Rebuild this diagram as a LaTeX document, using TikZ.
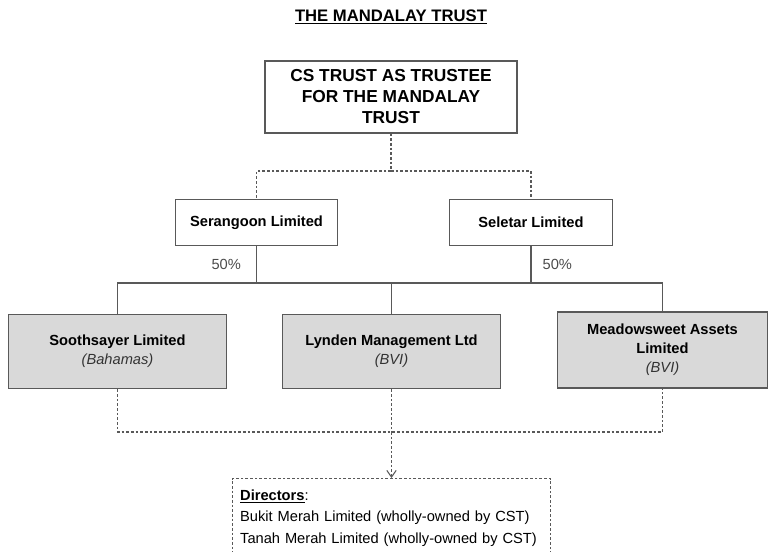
\documentclass[tikz,border=0pt]{standalone}
\usepackage{fontspec}
\setmainfont{Liberation Sans}
\usetikzlibrary{positioning}
\usetikzlibrary{arrows.meta}
\definecolor{boxgrey}{HTML}{D9D9D9}
\definecolor{edgegrey}{HTML}{595959}

\begin{document}
\begin{tikzpicture}[x=0.75pt,y=-0.75pt,
  entity/.style={draw=edgegrey,line width=0.9pt,fill=white,align=center,inner sep=2pt,
    font=\fontsize{11}{14}\selectfont\bfseries},
  company/.style={entity,fill=boxgrey,minimum height=56pt,font=\fontsize{11}{14.3}\selectfont\bfseries},
  owns/.style={draw=edgegrey,line width=0.8pt},
  control/.style={draw=edgegrey,line width=0.8pt,dash pattern=on 2pt off 1.5pt},
  pct/.style={font=\fontsize{11}{13}\selectfont,text=black!70}
]
\useasboundingbox (0,0) rectangle (768,551);

\node[font=\fontsize{12.5}{15}\selectfont\bfseries] (title) at (391,17) {\underline{THE MANDALAY TRUST}};

\node[entity,minimum width=189pt,minimum height=54pt,font=\fontsize{13}{15.75}\selectfont\bfseries] (trustee) at (391,97)
  {CS TRUST AS TRUSTEE\\FOR THE MANDALAY\\TRUST};

% shareholders
\node[entity,minimum width=122pt,minimum height=35pt] (serangoon) at (256.5,222.5) {Serangoon Limited};
\node[entity,minimum width=122pt,minimum height=35pt] (seletar) at (531,222.5) {Seletar Limited};

% companies
\node[company,minimum width=164pt] (soothsayer) at (117.5,351.5)
  {Soothsayer Limited\\{\mdseries\itshape\color{black!80}(Bahamas)}};
\node[company,minimum width=163pt] (lynden) at (391.5,351.5)
  {Lynden Management Ltd\\{\mdseries\itshape\color{black!80}(BVI)}};
\node[company,minimum width=157pt,minimum height=57pt] (meadow) at (662.5,350)
  {Meadowsweet Assets\\Limited\\{\mdseries\itshape\color{black!80}(BVI)}};

\node[control,anchor=north,text width=227pt,inner xsep=6pt,inner ysep=8.5pt,align=left,
  font=\fontsize{11}{16}\selectfont] (directors) at (391.5,478)
  {\underline{\textbf{Directors}}:\\
   Bukit Merah Limited (wholly-owned by CST)\\
   Tanah Merah Limited (wholly-owned by CST)\\ \mbox{}};

\coordinate (split) at (391,171);
\coordinate (own) at (391.5,283);
\coordinate (gather) at (391.5,432);

% trustee
\draw[control] (trustee.south) -- (split) -| (serangoon.north);
\draw[control] (split) -| (seletar.north);

% 50/50
\draw[owns] (serangoon.south) -- node[pct,left,xshift=-8pt]{50\%} (serangoon.south |- own);
\draw[owns] (seletar.south) -- node[pct,right,xshift=5pt]{50\%} (seletar.south |- own);
\draw[owns] (soothsayer.north) |- (own) -| (meadow.north);
\draw[owns] (own) -- (lynden.north);

% directors
\draw[control] (soothsayer.south) |- (gather) -| (meadow.south);
\draw[control] (lynden.south) -- (gather);
\draw[control,-{Straight Barb[length=5pt,width=7pt]}] (gather) -- (directors.north);
\end{tikzpicture}
\end{document}
